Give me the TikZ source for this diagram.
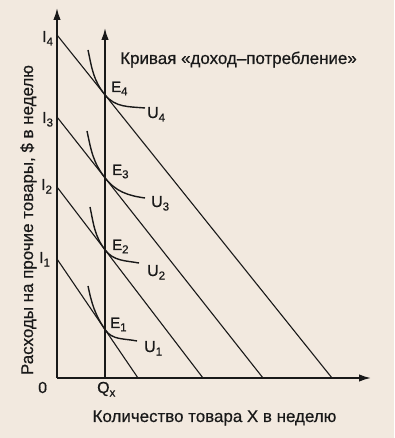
\documentclass[tikz,border=0pt]{standalone}
\usepackage{fontspec}
\setmainfont{Liberation Sans}[BoldFont={Liberation Sans},BoldFeatures={FakeBold=0.5}]
\usetikzlibrary{arrows.meta}
\definecolor{paper}{RGB}{242,233,223}
\definecolor{ink}{RGB}{25,25,25}
\newcommand{\subidx}[1]{\raisebox{-0.22em}{\fontsize{11.5}{12}\selectfont #1}}
\begin{document}
\begin{tikzpicture}[x=1bp,y=1bp,
  axis/.style={line width=1.7bp,ink,-{Latex[length=12bp,width=7.5bp]}},
  budget/.style={line width=1.1bp,ink},
  icurve/.style={line width=1.4bp,ink},
  lbl/.style={inner sep=0pt,anchor=base west,text=ink,font=\fontsize{16}{18}\selectfont\bfseries},
  elbl/.style={inner sep=0pt,anchor=base west,text=ink,font=\fontsize{15}{17}\selectfont\bfseries},
  ttl/.style={inner sep=0pt,anchor=base,text=ink,font=\fontsize{17}{19}\selectfont\bfseries}]
\fill[paper] (0,0) rectangle (394,438);
\useasboundingbox (0,0) rectangle (394,438);
% axes
\coordinate (O) at (57,60);
\coordinate (Yt) at (57,430);
\coordinate (Xt) at (371,60);
\coordinate (Q0) at (105,60);
\coordinate (Qt) at (105,410);
% budget lines
\coordinate (I4) at (57,403); \coordinate (B4) at (332,60);
\coordinate (I3) at (57,321); \coordinate (B3) at (263,60);
\coordinate (I2) at (57,251); \coordinate (B2) at (203,60);
\coordinate (I1) at (57,179); \coordinate (B1) at (138,60);
\draw[budget] (I4) -- (B4);
\draw[budget] (I3) -- (B3);
\draw[budget] (I2) -- (B2);
\draw[budget] (I1) -- (B1);
\draw[axis] (O) -- (Yt);
\draw[axis] (O) -- (Xt);
\draw[axis] (Q0) -- (Qt);
% equilibria
\coordinate (E4) at (intersection of I4--B4 and Q0--Qt);
\coordinate (E3) at (intersection of I3--B3 and Q0--Qt);
\coordinate (E2) at (intersection of I2--B2 and Q0--Qt);
\coordinate (E1) at (intersection of I1--B1 and Q0--Qt);
% indifference curves
\coordinate (S4) at (88,388); \coordinate (T4) at (145,330);
\coordinate (S3) at (87,307); \coordinate (T3) at (145,240);
\coordinate (S2) at (90,231); \coordinate (T2) at (139,175);
\coordinate (S1) at (88,152); \coordinate (T1) at (137,97);
\draw[icurve] (S4) to[out=-78,in=129] (E4) to[out=-51,in=175] (T4);
\draw[icurve] (S3) to[out=-78,in=128] (E3) to[out=-52,in=172] (T3);
\draw[icurve] (S2) to[out=-78,in=127] (E2) to[out=-53,in=170] (T2);
\draw[icurve] (S1) to[out=-78,in=124] (E1) to[out=-56,in=168] (T1);
% labels
\node[lbl] (lI4) at (42,396) {I\subidx{4}};
\node[lbl] (lI3) at (42,315) {I\subidx{3}};
\node[lbl] (lI2) at (41,248) {I\subidx{2}};
\node[lbl] (lI1) at (39,175) {I\subidx{1}};
\node[elbl] (lE4) at (111,346) {E\subidx{4}};
\node[elbl] (lE3) at (112,263) {E\subidx{3}};
\node[elbl] (lE2) at (112,188) {E\subidx{2}};
\node[elbl] (lE1) at (110,110) {E\subidx{1}};
\node[lbl] (lU4) at (147,320) {U\subidx{4}};
\node[lbl] (lU3) at (151,231) {U\subidx{3}};
\node[lbl] (lU2) at (147,162) {U\subidx{2}};
\node[lbl] (lU1) at (144,86) {U\subidx{1}};
\node[lbl] (l0) at (38,45) {0};
\node[lbl] (lQ) at (97,45) {Q\subidx{x}};
\node[ttl] (title) at (238.5,374) {Кривая «доход–потребление»};
\node[ttl] (xl) at (214.5,16) {Количество товара X в неделю};
\node[ttl,rotate=90] (yl) at (33,218) {Расходы на прочие товары, \$ в неделю};
\end{tikzpicture}
\end{document}
